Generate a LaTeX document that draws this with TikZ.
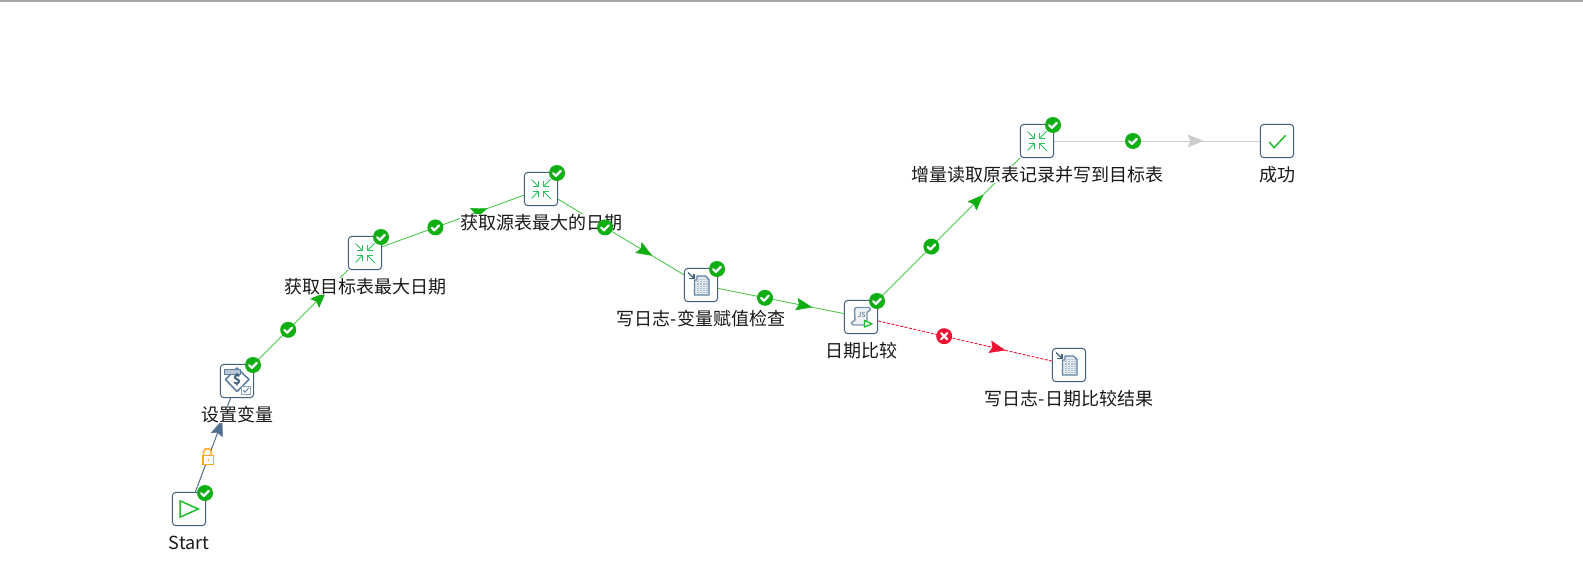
\documentclass[tikz,border=0pt]{standalone}
\usepackage{fontspec}
\setmainfont{Noto Sans CJK SC}
\usetikzlibrary{arrows.meta,calc,decorations.markings}
\definecolor{okgreen}{HTML}{0FAF14}
\definecolor{hopgreen}{HTML}{45C845}
\definecolor{iconblue}{HTML}{3F6080}
\definecolor{softblue}{HTML}{5F80A0}
\definecolor{hopgray}{HTML}{CDCDCD}
\definecolor{hopred}{HTML}{EC1334}
\definecolor{iconteal}{HTML}{2CC060}
\definecolor{iconlime}{HTML}{1FBE2A}
\definecolor{lockorange}{HTML}{FFA51F}
\pgfdeclarelayer{paper}
\pgfdeclarelayer{edges}
\pgfsetlayers{paper,edges,main}
\tikzset{
  x=1pt,y=-1pt,
  job/.style={draw=iconblue,fill=white,rectangle,rounded corners=3.5pt,minimum size=33.3pt,inner sep=0pt,line width=1pt},
  lbl/.style={fill=white,inner sep=0pt,text height=15pt,text depth=2pt,font=\fontsize{18}{20}\selectfont,text=black!90},
  okbadge/.style={circle,fill=okgreen,minimum size=16pt,inner sep=0pt,
    path picture={\draw[white,line width=2.2pt,line cap=round,line join=round]
      (path picture bounding box.center) ++(-3.8,0.2) -- ++(2.7,2.7) -- ++(4.9,-5);}},
  failbadge/.style={circle,fill=hopred,minimum size=16pt,inner sep=0pt,
    path picture={\draw[white,line width=2.2pt,line cap=round]
      (path picture bounding box.center) ++(-3,-3) -- ++(6,6) ++(-6,0) -- ++(6,-6);}},
  mergeicon/.pic={
    \foreach \sx/\sy in {-1/-1,1/-1,-1/1,1/1}{
      \draw[iconteal,line width=1pt] (\sx*9.5,\sy*9.5) -- (\sx*2.6,\sy*2.6);
      \draw[iconteal,line width=1pt] (\sx*8,\sy*2.6) -- (\sx*2.6,\sy*2.6) -- (\sx*2.6,\sy*8);
    }},
  logicon/.pic={
    \draw[iconblue,line width=1.3pt] (-13,-12.5) -- (-7,-6.5);
    \draw[iconblue,line width=1.3pt] (-12,-6.5) -- (-7,-6.5) -- (-7,-11.5);
    \draw[softblue,fill=softblue!18,line width=1.3pt,line join=round]
      (-6.5,-5) -- (-4,-5) -- (-4,-9) -- (4.5,-9) -- (8,-5.5) -- (8,10) -- (-6.5,10) -- cycle;
    \foreach \px in {-3,0,3,5.5}{
      \draw[softblue!50,line width=2pt,dash pattern=on 1.2pt off 1pt] (\px,-6) -- (\px,8);
    }},
  jsicon/.pic={
    \draw[softblue!85,fill=softblue!10,line width=1.4pt,line join=round,rounded corners=1.5pt]
      (-6.5,-9.5) -- (9.5,-9.5) -- (9.5,-6) -- (6,-6) -- (6,8) -- (-9,8) -- (-10,4.5) -- (-6,4.5) -- cycle;
    \node[inner sep=0pt,text=iconblue,font=\fontsize{7}{7}\selectfont] (jstext) at (0.5,-2.5) {JS};
    \draw[iconlime,fill=white,line width=1.3pt,line join=round] (3.5,3.5) -- (3.5,10) -- (11,6.8) -- cycle;
  },
  varicon/.pic={
    \draw[softblue,fill=white,line width=1.6pt,line join=round] (0,-13) -- (12,-1.5) -- (0,10.5) -- (-11.5,-1.5) -- cycle;
    \draw[softblue,fill=softblue!45,line width=.8pt] (-13,-11.5) rectangle (3,-7);
    \node[inner sep=0pt,text=iconblue,font=\fontsize{13}{13}\selectfont\bfseries] (vartext) at (0,-1.5) {\$};
    \draw[softblue!70,fill=white,line width=1pt] (4.5,5) rectangle (13,13.5);
    \draw[softblue,line width=1pt] (6,9) -- (8,11.2) -- (11.8,6.8);
  },
}
% a hop: line between two named jobs, its arrowhead, in the edges layer
\newcommand{\hopline}[4]{%
  \begin{pgfonlayer}{edges}
    \draw[#3] (#1) -- (#2);
    \path[postaction={decorate},decoration={markings,mark=at position .695 with {\arrow[#4]{Stealth[length=16pt,width=12.5pt,inset=2.5pt]}}}] (#1.center) -- (#2.center);
  \end{pgfonlayer}}
\begin{document}
\begin{tikzpicture}
\useasboundingbox (0,0) rectangle (1583,570);
\begin{pgfonlayer}{paper}
\fill[white] (0,0) rectangle (1583,570);
\end{pgfonlayer}
% top rule of the window
\draw[black!35,line width=1.3pt] (0,1) -- (1583,1);
\draw[black!35,line width=.8pt] (196.5,0) -- (196.5,1);
\draw[black!35,line width=.8pt] (275.5,0) -- (275.5,1);

% labels (white backing hides hops that pass behind)
\node[lbl] (lstart) at (189,542.7) {Start};
\node[lbl] (lvar) at (237,414.7) {设置变量};
\node[lbl] (ltgt) at (365,286.7) {获取目标表最大日期};
\node[lbl] (lsrc) at (541,222.7) {获取源表最大的日期};
\node[lbl] (llog) at (701,318.7) {写日志-变量赋值检查};
\node[lbl] (ljs) at (861,350.7) {日期比较};
\node[lbl] (lmerge) at (1037,174.7) {增量读取原表记录并写到目标表};
\node[lbl] (lok) at (1277,174.7) {成功};
\node[lbl] (lcmp) at (1069,398.7) {写日志-日期比较结果};

% job entries
\node[job] (start) at (189,509) {};
\node[job] (setvar) at (237,381) {};
\node[job] (tgt) at (365,253) {};
\node[job] (src) at (541,189) {};
\node[job] (logvar) at (701,285) {};
\node[job] (cmp) at (861,317) {};
\node[job] (merge) at (1037,141) {};
\node[job] (done) at (1277,141) {};
\node[job] (logcmp) at (1069,365) {};

% icons
\draw[iconlime,line width=1.5pt,line join=miter] ($(start)+(-9,-8.2)$) -- ($(start)+(9.3,0)$) -- ($(start)+(-9,8.2)$) -- cycle;
\pic at (setvar) {varicon};
\pic at (tgt) {mergeicon};
\pic at (src) {mergeicon};
\pic at (logvar) {logicon};
\pic at (cmp) {jsicon};
\pic at (merge) {mergeicon};
\draw[iconlime,line width=1.5pt] ($(done)+(-7.7,1)$) -- ($(done)+(-3,6.7)$) -- ($(done)+(8.7,-5.7)$);
\pic at (logcmp) {logicon};

% hops
\hopline{start}{setvar}{iconblue!90,line width=1pt}{iconblue!90}
\hopline{setvar}{tgt}{hopgreen,line width=.85pt}{okgreen}
\hopline{tgt}{src}{hopgreen,line width=.85pt}{okgreen}
\hopline{src}{logvar}{hopgreen,line width=.85pt}{okgreen}
\hopline{logvar}{cmp}{hopgreen,line width=.85pt}{okgreen}
\hopline{cmp}{merge}{hopgreen,line width=.85pt}{okgreen}
\hopline{merge}{done}{hopgray,line width=1pt}{hopgray}
\hopline{cmp}{logcmp}{hopred,line width=.9pt,dash pattern=on 3pt off 1.5pt}{hopred}

% result badges on the jobs
\foreach \j/\n in {start/a,setvar/b,tgt/c,src/d,logvar/e,cmp/f,merge/g}{
  \node[okbadge] (corner\n) at ($(\j.center)+(16,-16)$) {};
}
% condition badges on the hops
\node[okbadge] (h1) at ($(setvar.center)!.4!(tgt.center)$) {};
\node[okbadge] (h2) at ($(tgt.center)!.4!(src.center)$) {};
\node[okbadge] (h3) at ($(src.center)!.4!(logvar.center)$) {};
\node[okbadge] (h4) at ($(logvar.center)!.4!(cmp.center)$) {};
\node[okbadge] (h5) at ($(cmp.center)!.4!(merge.center)$) {};
\node[okbadge] (h6) at ($(merge.center)!.4!(done.center)$) {};
\node[failbadge] (h7) at ($(cmp.center)!.4!(logcmp.center)$) {};
% lock on the first hop
\node[draw=lockorange,fill=white,line width=1.5pt,minimum width=10.5pt,minimum height=9pt,inner sep=0pt] (lockbody) at ($(start.center)!.4!(setvar.center)+(0,2)$) {};
\draw[lockorange,fill=white,line width=1.5pt] (lockbody.north west) ++(1.5,0) -- ++(0,-3) arc[start angle=180,end angle=0,x radius=3.75,y radius=-3] -- ++(0,3);
\fill[lockorange] (lockbody.center) circle (1);
\end{tikzpicture}
\end{document}
